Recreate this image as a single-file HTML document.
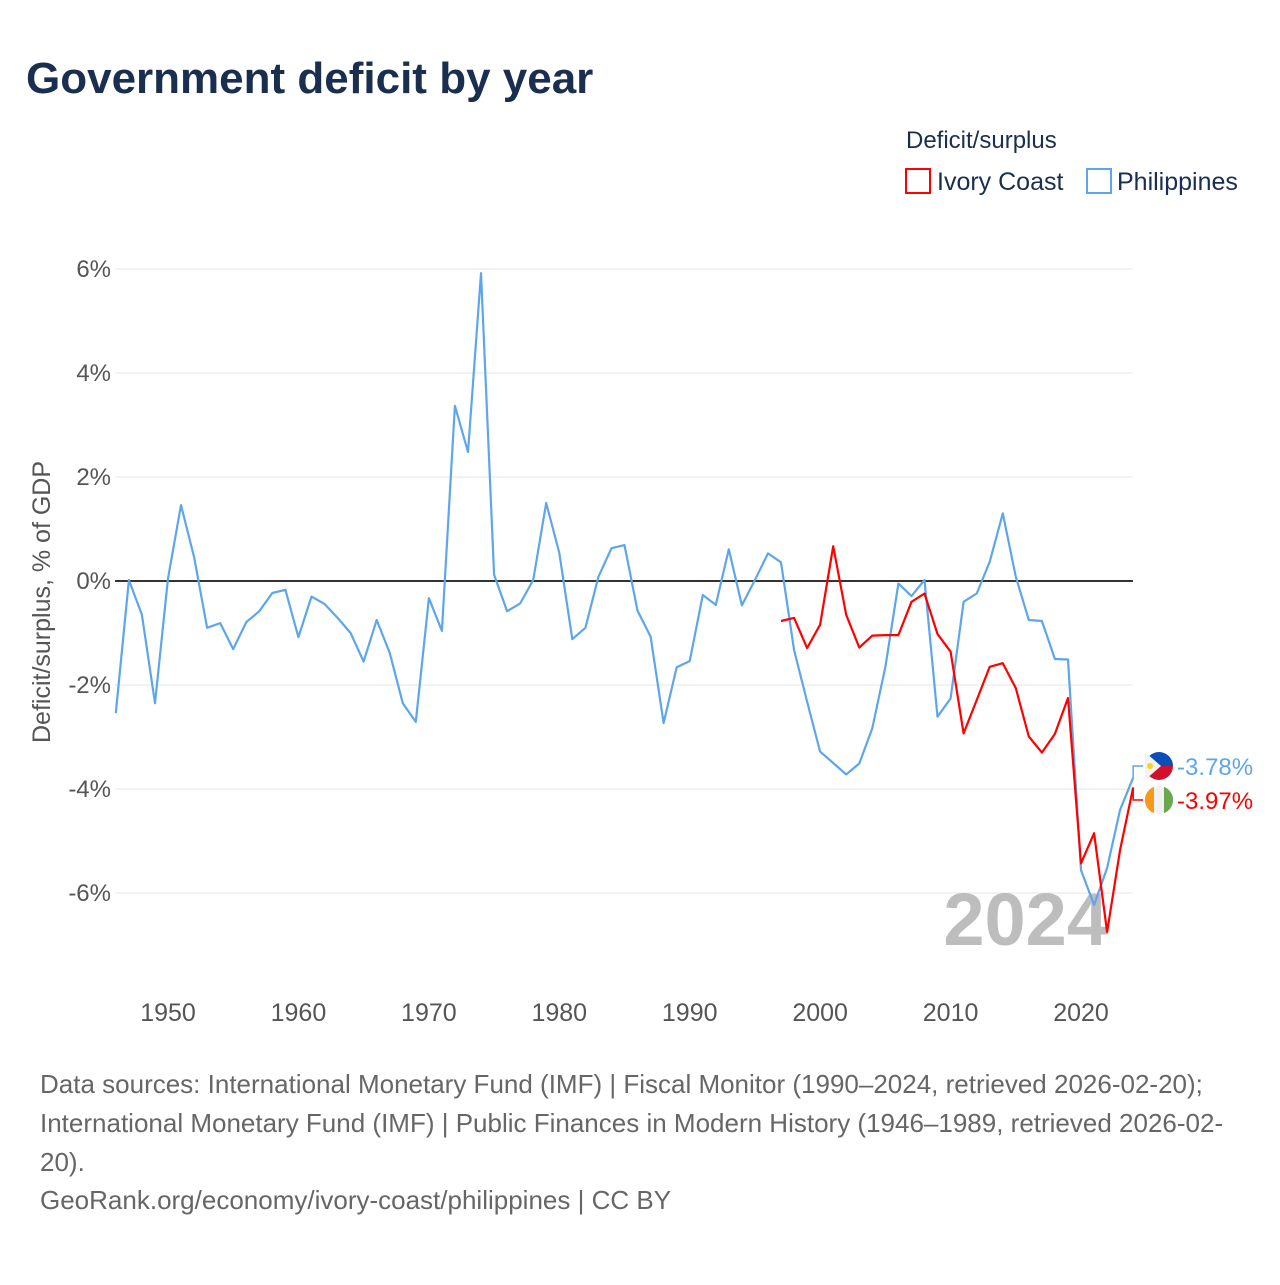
<!DOCTYPE html>
<html><head><meta charset="utf-8"><style>
html,body{margin:0;padding:0;background:#fff;}
body{width:1280px;height:1280px;overflow:hidden;font-family:"Liberation Sans",sans-serif;}
svg text{font-family:"Liberation Sans",sans-serif;}
</style></head><body>
<svg id="chart" width="1280" height="1280" viewBox="0 0 1280 1280" xmlns="http://www.w3.org/2000/svg">
<text x="26" y="93" font-size="44" font-weight="bold" fill="#1a2e4f">Government deficit by year</text>
<text x="906" y="148" font-size="24" fill="#1a2e4f">Deficit/surplus</text>
<g>
<rect x="906" y="169" width="24" height="24" fill="none" stroke="#ff0000" stroke-width="2"/>
<text x="937" y="190" font-size="25" fill="#1a2e4f">Ivory Coast</text></g>
<g>
<rect x="1087" y="169" width="24" height="24" fill="none" stroke="#5ea6ea" stroke-width="2"/>
<text x="1117" y="190" font-size="25" fill="#1a2e4f">Philippines</text></g>
<text transform="translate(50,602) rotate(-90)" text-anchor="middle" font-size="25" fill="#555">Deficit/surplus, % of GDP</text>
<g id="grid"></g><g id="xt"></g>
<text x="1108" y="945" text-anchor="end" font-size="74" font-weight="bold" fill="#bdbdbd">2024</text>
<g id="lines"></g><g id="labels"></g>
<g font-size="26" fill="#666">
<text x="40" y="1093">Data sources: International Monetary Fund (IMF) | Fiscal Monitor (1990–2024, retrieved 2026-02-20);</text>
<text x="40" y="1132">International Monetary Fund (IMF) | Public Finances in Modern History (1946–1989, retrieved 2026-02-</text>
<text x="40" y="1171">20).</text>
<text x="40" y="1209">GeoRank.org/economy/ivory-coast/philippines | CC BY</text>
</g>
</svg>
<script>
const yTicks=[6,4,2,0,-2,-4,-6];
const xTicks=[1950,1960,1970,1980,1990,2000,2010,2020];
const phYears=[];for(let y=1946;y<=2024;y++)phYears.push(y);
const phValues=[-2.54,0.02,-0.65,-2.35,0.05,1.46,0.46,-0.9,-0.81,-1.31,-0.79,-0.58,-0.23,-0.17,-1.08,-0.3,-0.44,-0.71,-1.0,-1.55,-0.75,-1.38,-2.35,-2.71,-0.33,-0.96,3.37,2.48,5.92,0.12,-0.58,-0.43,0.02,1.5,0.54,-1.12,-0.9,0.08,0.63,0.69,-0.57,-1.07,-2.73,-1.66,-1.54,-0.27,-0.46,0.61,-0.47,0.02,0.53,0.36,-1.33,-2.32,-3.28,-3.5,-3.72,-3.51,-2.83,-1.65,-0.05,-0.29,0.02,-2.61,-2.26,-0.4,-0.24,0.37,1.3,0.08,-0.75,-0.77,-1.5,-1.51,-5.56,-6.23,-5.52,-4.4,-3.78];
const icYears=[];for(let y=1997;y<=2024;y++)icYears.push(y);
const icValues=[-0.77,-0.71,-1.29,-0.84,0.67,-0.65,-1.28,-1.05,-1.04,-1.04,-0.4,-0.24,-1.02,-1.36,-2.93,-2.29,-1.65,-1.58,-2.06,-2.99,-3.3,-2.94,-2.25,-5.43,-4.85,-6.75,-5.17,-3.97];
const NS="http://www.w3.org/2000/svg";
const X=y=>168+(y-1950)*13.043;
const Y=v=>581-v*52;
function mk(tag,attrs,parent){const e=document.createElementNS(NS,tag);for(const k in attrs)e.setAttribute(k,attrs[k]);parent.appendChild(e);return e;}
const grid=document.getElementById('grid');
yTicks.forEach(t=>{
 const l=mk('line',{x1:115,x2:1133,y1:Y(t),y2:Y(t),stroke:t===0?'#333':'#e6e6e6','stroke-width':t===0?2:1},grid);
 
 
 const tx=mk('text',{x:111,y:Y(t)+8,'text-anchor':'end','font-size':24,fill:'#555'},grid);
 tx.textContent=t+'%';
 
 
});
const xt=document.getElementById('xt');
xTicks.forEach(t=>{
 const tx=mk('text',{x:X(t),y:1021,'text-anchor':'middle','font-size':25,fill:'#555'},xt);
 tx.textContent=t;
 
 
});
const lines=document.getElementById('lines');
function series(years,vals,color,name){
 const d=years.map((y,i)=>(i?'L':'M')+X(y).toFixed(1)+' '+Y(vals[i]).toFixed(1)).join(' ');
 const p=mk('path',{d:d,fill:'none',stroke:color,'stroke-width':2.2,'stroke-linejoin':'round'},lines);
 
 
}
series(phYears,phValues,'#5ea6ea','line-philippines');
series(icYears,icValues,'#ff0000','line-ivory-coast');
const labels=document.getElementById('labels');
function endLabel(y,val,ly,color,name,flag){
 const ex=X(y),ey=Y(val);
 mk('path',{d:`M${ex} ${ey} L${ex} ${ly} L${ex+10} ${ly}`,fill:'none',stroke:color,'stroke-width':1.5},labels);
 const g=mk('g',{},labels);
 
 
 const cx=1159,cy=ly,r=14;
 if(flag==='ph'){
  mk('path',{d:`M${cx-r} ${cy} A${r} ${r} 0 0 1 ${cx+r} ${cy} Z`,fill:'#0a4fb8'},g);
  mk('path',{d:`M${cx-r} ${cy} A${r} ${r} 0 0 0 ${cx+r} ${cy} Z`,fill:'#d3102b'},g);
  mk('path',{d:`M${cx-r} ${cy-r} L${cx+2} ${cy} L${cx-r} ${cy+r} Z`,fill:'#f2f2f2'},g);
  mk('circle',{cx:cx-9,cy:cy,r:3,fill:'#fcd116'},g);
 }else{
  mk('circle',{cx:cx,cy:cy,r:r,fill:'#f2f2f2'},g);
  mk('path',{d:`M${cx-5} ${cy-13.1} A${r} ${r} 0 0 0 ${cx-5} ${cy+13.1} Z`,fill:'#f7991b'},g);
  mk('path',{d:`M${cx+5} ${cy-13.1} A${r} ${r} 0 0 1 ${cx+5} ${cy+13.1} Z`,fill:'#6aa84f'},g);
 }
 const t=mk('text',{x:1177,y:ly+9,'font-size':24,fill:color},labels);
 t.textContent=val.toFixed(2)+'%';
 
 
}
endLabel(2024,phValues[phValues.length-1],766,'#5ea6ea','philippines','ph');
endLabel(2024,icValues[icValues.length-1],800,'#ff0000','ivory-coast','ic');
</script>
</body></html>
